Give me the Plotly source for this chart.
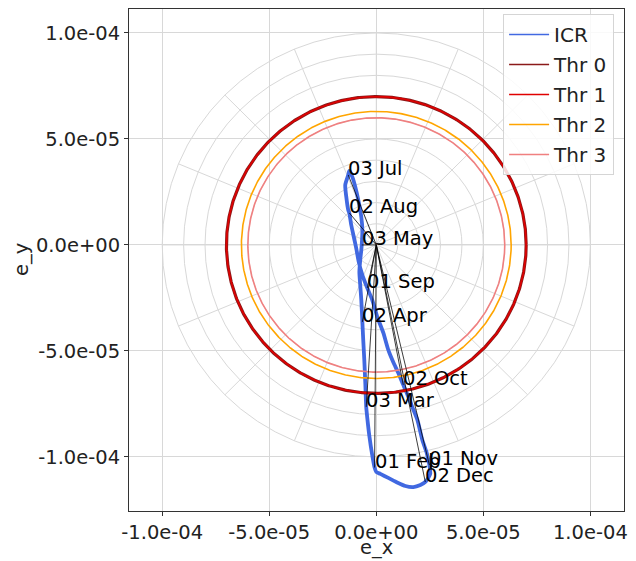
import numpy as np
import plotly.graph_objects as go

# ICR eccentricity-vector path over the year (units of 1e-5), starting 01 Feb
icr_ex = [-0.08, -0.19, -0.33, -0.42, -0.47, -0.51, -0.56, -0.61, -0.65, -0.70, -0.75,
          -0.79, -0.75, -0.70, -0.68, -0.65, -0.70, -0.84, -0.98, -1.12, -1.26, -1.31,
          -1.45, -1.40, -1.31, -1.26, -1.17, -1.07, -0.94, -0.82, -0.65, -0.42, -0.19,
          0.05, 0.33, 0.56, 0.79, 1.03, 1.26, 1.50, 1.68, 1.92, 2.15, 2.34, 2.48, 2.52,
          2.29, 2.06, 1.73, 1.36, 0.93, 0.56, 0.19, 0.00, -0.08]
icr_ey = [-10.50, -9.91, -8.96, -8.16, -7.64, -6.60, -5.42, -4.48, -3.63, -2.59, -1.89,
          -1.27, -0.71, -0.24, 0.00, 0.71, 1.32, 2.12, 2.74, 3.21, 3.49, 3.30,
          2.83, 2.26, 1.65, 1.51, 0.94, 0.47, -0.14, -0.80, -1.42, -2.03, -2.59,
          -3.40, -4.15, -4.95, -5.52, -6.04, -6.60, -7.17, -7.64, -8.25, -9.20, -9.76, -10.38, -10.80,
          -11.18, -11.32, -11.42, -11.37, -11.18, -10.99, -10.80, -10.71, -10.50]
SCALE = 1e-5

# Monthly markers on the path (units of 1e-5)
date_labels = ["01 Feb", "03 Mar", "02 Apr", "03 May", "03 Jul",
               "02 Aug", "01 Sep", "02 Oct", "01 Nov", "02 Dec"]
date_ex = [-0.08, -0.47, -0.65, -0.68, -1.31, -1.26, -0.42, 1.26, 2.48, 2.29]
date_ey = [-10.50, -7.64, -3.63, 0.00, 3.30, 1.51, -2.03, -6.60, -10.38, -11.18]

# Threshold radii
thr_names = ["Thr 0", "Thr 1", "Thr 2", "Thr 3"]
thr_radii = [7.0e-5, 7.0e-5, 6.3e-5, 6.0e-5]
thr_colors = ["#8b1a1a", "#e00000", "#ffa500", "#f08080"]

# Polar reference grid
grid_radii = [1e-5, 2e-5, 3e-5, 4e-5, 5e-5, 6e-5, 7e-5, 8e-5, 9e-5, 1e-4]
spoke_angles_deg = [0, 22.5, 45, 67.5, 90, 112.5, 135, 157.5,
                    180, 202.5, 225, 247.5, 270, 292.5, 315, 337.5]

# Axis ticks
tick_vals = [-1e-4, -5e-5, 0.0, 5e-5, 1e-4]
tick_text = ["-1.0e-04", "-5.0e-05", "0.0e+00", "5.0e-05", "1.0e-04"]

FONT = "DejaVu Sans"
FS = 19.5
FS_LEG = 20
GRID = "#d8d8d8"
TXT = "#222222"

fig = go.Figure()

# polar grid shapes
shapes = []
for r in grid_radii:
    shapes.append(dict(type="circle", xref="x", yref="y", x0=-r, y0=-r, x1=r, y1=r,
                       line=dict(color=GRID, width=1), layer="below"))
rmax = max(grid_radii)
for a in spoke_angles_deg:
    t = np.deg2rad(a)
    shapes.append(dict(type="line", xref="x", yref="y", x0=0, y0=0,
                       x1=rmax * np.cos(t), y1=rmax * np.sin(t),
                       line=dict(color=GRID, width=1), layer="below"))

icr_x = [v * SCALE for v in icr_ex]
icr_y = [v * SCALE for v in icr_ey]

# ICR path: thick stroke, with a thin companion trace carrying the legend entry
fig.add_trace(go.Scatter(
    x=icr_x, y=icr_y, mode="lines", showlegend=False, hoverinfo="skip",
    legendgroup="icr",
    line=dict(color="#4169e1", width=3.8, shape="spline", smoothing=0.6),
))
fig.add_trace(go.Scatter(
    x=icr_x, y=icr_y, mode="lines", name="ICR", legendgroup="icr",
    line=dict(color="#4169e1", width=1.5, shape="spline", smoothing=0.6),
))

# threshold circles
theta = np.linspace(0, 2 * np.pi, 721)
for name, r, c in zip(thr_names, thr_radii, thr_colors):
    if name == "Thr 0":
        # wider under-stroke for the outer threshold ring
        fig.add_trace(go.Scatter(
            x=r * np.cos(theta), y=r * np.sin(theta), mode="lines",
            showlegend=False, hoverinfo="skip", legendgroup=name,
            line=dict(color=c, width=3.2),
        ))
    fig.add_trace(go.Scatter(
        x=r * np.cos(theta), y=r * np.sin(theta), mode="lines", name=name,
        legendgroup=name, line=dict(color=c, width=1.6),
    ))

# vectors from the origin to each dated point
vx, vy = [], []
for ex, ey in zip(date_ex, date_ey):
    vx += [0.0, ex * SCALE, None]
    vy += [0.0, ey * SCALE, None]
fig.add_trace(go.Scatter(x=vx, y=vy, mode="lines", showlegend=False,
                         line=dict(color="rgba(0,0,0,0.85)", width=0.9),
                         hoverinfo="skip"))

# date labels
annotations = []
for lab, ex, ey in zip(date_labels, date_ex, date_ey):
    annotations.append(dict(x=ex * SCALE, y=ey * SCALE, text=lab, showarrow=False,
                            xanchor="left", yanchor="bottom", xshift=-2, yshift=-7,
                            font=dict(family=FONT, size=FS, color="black")))

# axis titles
annotations.append(dict(x=0.5, y=0.0, xref="paper", yref="paper", text="e_x",
                        showarrow=False, xanchor="center", yanchor="top", yshift=-24,
                        borderpad=0,
                        font=dict(family=FONT, size=FS, color=TXT)))
annotations.append(dict(x=-0.218, y=0.5, xref="paper", yref="paper", text="e_y",
                        showarrow=False, xanchor="center", yanchor="middle", textangle=-90,
                        font=dict(family=FONT, size=FS, color=TXT)))

axis_common = dict(
    tickvals=tick_vals, ticktext=tick_text,
    showgrid=True, gridcolor=GRID, gridwidth=1,
    zeroline=False, showline=True, linecolor="#333333", linewidth=1, mirror=True,
    ticks="outside", ticklen=4, tickcolor="#333333", tickwidth=1,
    tickfont=dict(family=FONT, size=FS, color=TXT),
    automargin=False,
)

fig.update_layout(
    width=636, height=561,
    margin=dict(l=129, r=12, t=9, b=50),
    paper_bgcolor="white", plot_bgcolor="white",
    shapes=shapes, annotations=annotations,
    xaxis=dict(range=[-1.155e-4, 1.157e-4], **axis_common),
    yaxis=dict(range=[-1.255e-4, 1.113e-4], **axis_common),
    legend=dict(x=0.98, y=0.99, xanchor="right", yanchor="top",
                bgcolor="rgba(255,255,255,0.85)", bordercolor="#d5d5d5", borderwidth=1,
                font=dict(family=FONT, size=FS_LEG, color=TXT),
                itemwidth=40, traceorder="grouped", tracegroupgap=1),
    showlegend=True,
)

fig.write_html("out.html")
